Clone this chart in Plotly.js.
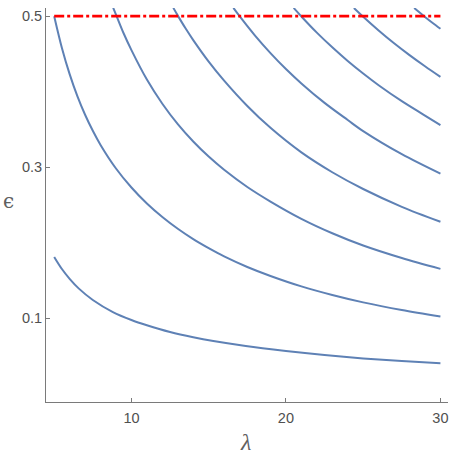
<!DOCTYPE html>
<html>
<head>
<meta charset="utf-8">
<script src="https://cdn.plot.ly/plotly-3.0.1.min.js"></script>
<style>html,body{margin:0;padding:0;background:#fff;}#chart{width:450px;height:459px;}</style>
</head>
<body>
<div id="chart"></div>
<script>
// Curve 0 (lowest)
const lam0 = [5, 5.5, 6, 6.6, 7.5, 8.8, 10, 11, 12.5, 14, 15.3, 17.4, 20, 22.5, 25, 27.5, 30];
const eps0 = [0.181, 0.165, 0.152, 0.139, 0.124, 0.108, 0.0975, 0.0905, 0.0815, 0.0745, 0.0695, 0.063, 0.0565, 0.051, 0.0465, 0.043, 0.040];
// Curve 1
const lam1 = [5, 5.5, 6, 6.5, 7, 7.5, 8, 9, 10, 11, 12, 13, 14, 15, 16, 17.5, 19, 21, 23, 25, 27.5, 30];
const eps1 = [0.500, 0.4579, 0.4232, 0.3941, 0.3694, 0.3481, 0.3294, 0.2982, 0.2730, 0.2518, 0.2339, 0.2183, 0.2046, 0.1926, 0.1817, 0.1677, 0.1558, 0.142, 0.1306, 0.1208, 0.1106, 0.102];
// Curve 2
const lam2 = [8.82, 9.04, 9.5, 10, 11, 12, 13, 14, 15, 16, 17.5, 19, 21, 23, 25, 27.5, 30];
const eps2 = [0.511, 0.500, 0.477, 0.455, 0.416, 0.384, 0.357, 0.334, 0.314, 0.2965, 0.2737, 0.2544, 0.2315, 0.2124, 0.1962, 0.1796, 0.1652];
// Curve 3
const lam3 = [12.71, 13, 13.5, 14, 15, 16, 17.5, 19, 21, 23, 25, 27.5, 30];
const eps3 = [0.511, 0.5007, 0.4839, 0.4683, 0.4398, 0.4146, 0.381, 0.352, 0.3195, 0.2932, 0.271, 0.2474, 0.2276];
// Curve 4
const lam4 = [16.6, 17, 18, 19, 20, 21, 22.5, 24, 25, 27.5, 30];
const eps4 = [0.511, 0.500, 0.4743, 0.4511, 0.430, 0.4109, 0.3851, 0.3624, 0.3477, 0.3171, 0.2913];
// Curve 5
const lam5 = [20.5, 21, 22, 23, 24, 25, 26, 27.5, 29, 30];
const eps5 = [0.5109, 0.4996, 0.4782, 0.4587, 0.4406, 0.424, 0.4085, 0.3874, 0.3683, 0.3555];
// Curve 6
const lam6 = [24.4, 25, 26, 27, 28, 29, 30];
const eps6 = [0.5108, 0.4992, 0.4811, 0.4641, 0.4484, 0.4336, 0.4195];
// Curve 7
const lam7 = [28.3, 29, 29.5, 30];
const eps7 = [0.5108, 0.499, 0.491, 0.4833];
// Threshold line
const limitLam = [5, 30];
const limitEps = [0.5, 0.5];

const xTicks = [10, 20, 30];
const xTickText = ['10', '20', '30'];
const yTicks = [0.1, 0.3, 0.5];
const yTickText = ['0.1', '0.3', '0.5'];

const curves = [[lam0, eps0], [lam1, eps1], [lam2, eps2], [lam3, eps3], [lam4, eps4], [lam5, eps5], [lam6, eps6], [lam7, eps7]];
const blue = '#5E81B5';
const traces = curves.map(c => ({
  x: c[0], y: c[1], type: 'scatter', mode: 'lines',
  line: {color: blue, width: 2, shape: 'spline', smoothing: 0.9},
  hoverinfo: 'skip'
}));
traces.push({
  x: limitLam, y: limitEps, type: 'scatter', mode: 'lines',
  line: {color: '#FF0000', width: 2.6, dash: '10px,3px,3px,3px'},
  hoverinfo: 'skip'
});

const axisColor = '#7a7a7a';
const tickFont = {family: 'Liberation Sans, Arial, sans-serif', size: 14.5, color: '#505050'};
const layout = {
  width: 450, height: 459,
  margin: {l: 46, r: 2, t: 8, b: 57},
  paper_bgcolor: '#fff', plot_bgcolor: '#fff',
  showlegend: false,
  xaxis: {
    range: [4.47, 30.49], showgrid: false, zeroline: false,
    showline: true, linecolor: axisColor, linewidth: 1,
    ticks: 'inside', ticklen: 4, tickcolor: axisColor, tickwidth: 1,
    tickvals: xTicks, ticktext: xTickText, tickfont: tickFont,
    ticklabelstandoff: 3
  },
  yaxis: {
    range: [-0.0112, 0.5108], showgrid: false, zeroline: false,
    showline: true, linecolor: axisColor, linewidth: 1,
    ticks: 'inside', ticklen: 4, tickcolor: axisColor, tickwidth: 1,
    tickvals: yTicks, ticktext: yTickText, tickfont: tickFont
  },
  annotations: [
    {text: '<i>λ</i>', xref: 'paper', yref: 'paper', x: 0.4975, y: -0.1015,
     xanchor: 'center', yanchor: 'middle', showarrow: false,
     font: {family: 'Liberation Serif, serif', size: 24, color: '#606060'}},
    {text: 'ϵ', xref: 'paper', yref: 'paper', x: -0.094, y: 0.51,
     xanchor: 'center', yanchor: 'middle', showarrow: false,
     font: {family: 'DejaVu Serif, serif', size: 20, color: '#606060'}}
  ]
};
Plotly.newPlot('chart', traces, layout, {staticPlot: true, displayModeBar: false});
</script>
</body>
</html>
